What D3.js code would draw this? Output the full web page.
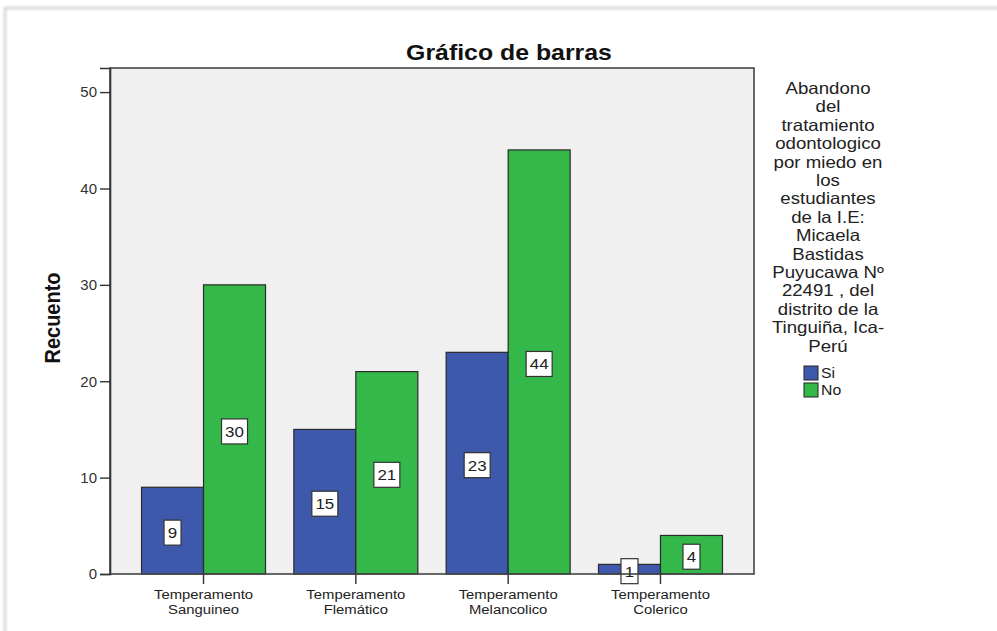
<!DOCTYPE html>
<html><head><meta charset="utf-8">
<script src="https://cdn.jsdelivr.net/npm/d3@7"></script>
<style>body{margin:0;background:#fff;}svg{display:block;font-family:Arial,"Liberation Sans",sans-serif;}</style>
</head><body><svg id="c" width="997" height="631"></svg>
<script>
const categories = [["Temperamento","Sanguineo"],["Temperamento","Flemático"],["Temperamento","Melancolico"],["Temperamento","Colerico"]];
const seriesNames = ["Si","No"];
const siValues = [9,15,23,1];
const noValues = [30,21,44,4];
const yTicks = [0,10,20,30,40,50];
const legendTitle = ["Abandono","del","tratamiento","odontologico","por miedo en","los","estudiantes","de la I.E:","Micaela","Bastidas","Puyucawa Nº","22491 , del","distrito de la","Tinguiña, Ica-","Perú"];
const colors = ["#3e58ac","#34b84a"];
const SX = 1.13;

const svg = d3.select("#c");
const defs = svg.append("defs");
const f = defs.append("filter").attr("id","sh").attr("x","-5%").attr("y","-5%").attr("width","110%").attr("height","110%");
f.append("feGaussianBlur").attr("stdDeviation",1.5);
svg.append("rect").attr("x",5).attr("y",8).attr("width",1010).attr("height",640).attr("fill","none").attr("stroke","#c8c8c8").attr("stroke-width",2).attr("filter","url(#sh)");

const L=110,R=754,T=68,B=574;
const x = d3.scaleBand().domain(d3.range(categories.length)).range([L,R]).paddingInner(0.186).paddingOuter(0.207);
const xs = d3.scaleBand().domain(d3.range(2)).range([0,x.bandwidth()]);
const y = d3.scaleLinear().domain([0,52.5]).range([B,T]);

svg.append("rect").attr("x",L).attr("y",T).attr("width",R-L).attr("height",B-T).attr("fill","#f0f0f0");

const data = categories.map((c,i)=>[siValues[i],noValues[i]]);
const g = svg.append("g");
data.forEach((vals,i)=>{
  vals.forEach((v,j)=>{
    g.append("rect").attr("x",x(i)+xs(j)).attr("y",y(v)).attr("width",xs.bandwidth()).attr("height",y(0)-y(v))
      .attr("fill",colors[j]).attr("stroke","#2a2a2a").attr("stroke-width",1.2);
  });
});
// labels
data.forEach((vals,i)=>{
  vals.forEach((v,j)=>{
    const cx = x(i)+xs(j)+xs.bandwidth()/2, cy = (y(v)+y(0))/2+2;
    const s = String(v);
    const w = s.length>1?26:17, h=25;
    g.append("rect").attr("x",cx-w/2).attr("y",cy-h/2).attr("width",w).attr("height",h).attr("fill","#fff").attr("stroke","#333").attr("stroke-width",1.2);
    g.append("text").attr("transform",`translate(${cx},${cy+5.5}) scale(${SX},1)`).attr("text-anchor","middle").attr("font-size",15).attr("fill","#222").text(s);
  });
});

// frame
svg.append("rect").attr("x",L).attr("y",T).attr("width",R-L).attr("height",B-T).attr("fill","none").attr("stroke","#444").attr("stroke-width",1.6);

// y axis
const ya = svg.append("g").attr("transform",`translate(${L},0)`).call(d3.axisLeft(y).tickValues(yTicks).tickSize(10).tickPadding(3));
ya.select(".domain").attr("stroke","#333").attr("stroke-width",1.6);
ya.selectAll(".tick line").attr("stroke","#333").attr("stroke-width",1.4);
ya.selectAll(".tick text").attr("font-size",15).attr("fill","#333").attr("font-family","Arial,'Liberation Sans',sans-serif");

// x axis
const xa = svg.append("g").attr("transform",`translate(0,${B})`).call(d3.axisBottom(x).tickSize(10).tickFormat(""));
xa.select(".domain").remove();
xa.selectAll(".tick line").attr("stroke","#333").attr("stroke-width",1.4);
categories.forEach((c,i)=>{
  const cx = x(i)+x.bandwidth()/2;
  c.forEach((t,k)=>{
    svg.append("text").attr("transform",`translate(${cx},${599+k*14.5}) scale(1.1,1)`).attr("text-anchor","middle").attr("font-size",13.5).attr("fill","#222").text(t);
  });
});

// title
svg.append("text").attr("transform",`translate(509,60) scale(${SX},1)`).attr("text-anchor","middle").attr("font-size",22).attr("font-weight","bold").attr("fill","#111").text("Gráfico de barras");
// y label
svg.append("text").attr("transform",`translate(60,318) scale(${SX},1) rotate(-90)`).attr("text-anchor","middle").attr("font-size",20).attr("font-weight","bold").attr("fill","#111").text("Recuento");

// legend
legendTitle.forEach((t,k)=>{
  svg.append("text").attr("transform",`translate(828,${94+k*18.4}) scale(${SX},1)`).attr("text-anchor","middle").attr("font-size",16.5).attr("fill","#222").text(t);
});
seriesNames.forEach((s,j)=>{
  const yy = 366+j*17;
  svg.append("rect").attr("x",804).attr("y",yy).attr("width",14).attr("height",14).attr("fill",colors[j]).attr("stroke","#222").attr("stroke-width",1);
  svg.append("text").attr("transform",`translate(821,${yy+12}) scale(${SX},1)`).attr("font-size",14).attr("fill","#222").text(s);
});
</script></body></html>
